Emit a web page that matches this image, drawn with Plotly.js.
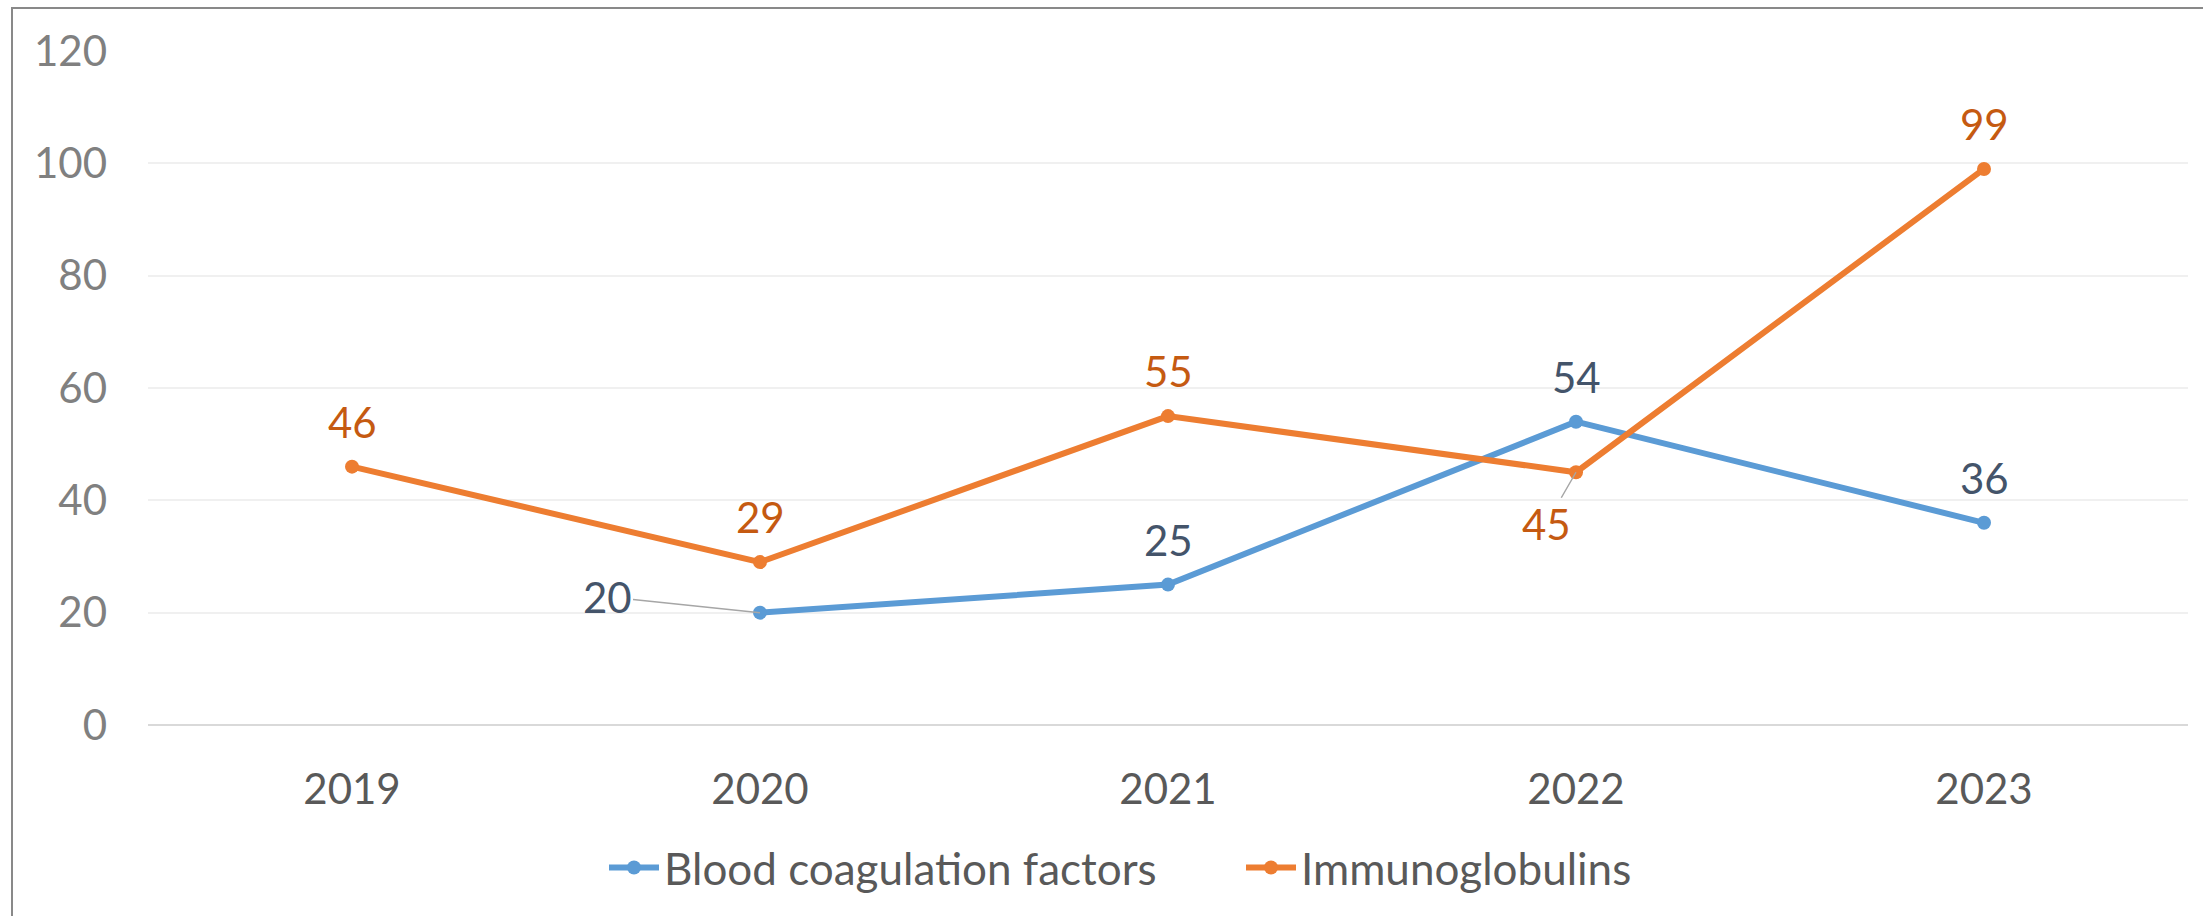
<!DOCTYPE html>
<html>
<head>
<meta charset="utf-8">
<script src="https://cdn.plot.ly/plotly-3.0.1.min.js"></script>
<style>html,body{margin:0;padding:0;background:#fff;}#chart{width:2203px;height:916px;}</style>
</head>
<body>
<div id="chart"></div>
<script>
const years = ['2019', '2020', '2021', '2022', '2023'];
const bloodCoagulation = [null, 20, 25, 54, 36];
const immunoglobulins = [46, 29, 55, 45, 99];
const yTicks = [0, 20, 40, 60, 80, 100, 120];

const FONT = 'Lato, "Liberation Sans", sans-serif';
const BLUE = '#5B9BD5', ORANGE = '#ED7D31';
const BLUE_LBL = '#44546A', ORANGE_LBL = '#C55A11';

const traces = [
  {x: years, y: bloodCoagulation, name: 'Blood coagulation factors', type: 'scatter', mode: 'lines+markers',
   line: {color: BLUE, width: 6}, marker: {color: BLUE, size: 14}},
  {x: years, y: immunoglobulins, name: 'Immunoglobulins', type: 'scatter', mode: 'lines+markers',
   line: {color: ORANGE, width: 6}, marker: {color: ORANGE, size: 14}}
];

// label offsets (style only)
const blueOff = {'2020': {ax: -153, ay: -16}};
const orangeOff = {'2022': {ax: -30, ay: 52}};
const annotations = [];
function addLabels(vals, color, offs) {
  years.forEach((yr, i) => {
    const v = vals[i];
    if (v === null) return;
    const o = offs[yr];
    const base = {x: i, y: v, xref: 'x', yref: 'y', text: String(v),
      font: {family: FONT, size: 42, color: color}};
    if (o) {
      annotations.push(Object.assign(base, {showarrow: true, ax: o.ax, ay: o.ay, arrowhead: 0,
        arrowwidth: 1.5, arrowcolor: '#A6A6A6', standoff: 0}));
    } else {
      annotations.push(Object.assign(base, {showarrow: false, yshift: 45}));
    }
  });
}
addLabels(bloodCoagulation, BLUE_LBL, blueOff);
addLabels(immunoglobulins, ORANGE_LBL, orangeOff);

const layout = {
  width: 2203, height: 916,
  margin: {l: 148, r: 15, t: 51, b: 191},
  paper_bgcolor: '#fff', plot_bgcolor: '#fff',
  font: {family: FONT, color: '#595959'},
  showlegend: true,
  legend: {orientation: 'h', x: (604 - 148) / 2040, xanchor: 'left', y: -0.212, yanchor: 'middle',
    font: {family: FONT, size: 44, color: '#595959'}, itemwidth: 50, entrywidth: 572, entrywidthmode: 'pixels'},
  xaxis: {type: 'category', range: [-0.5, 4.5], autorange: false, showgrid: false, zeroline: false,
    showline: false, ticks: '',
    tickfont: {family: FONT, size: 42, color: '#595959'}, ticklabelstandoff: 36, fixedrange: true},
  yaxis: {range: [0, 120], autorange: false, tickvals: yTicks, showgrid: true, gridcolor: '#F0F0F0', gridwidth: 2,
    zeroline: true, zerolinecolor: '#D9D9D9', zerolinewidth: 2, showline: false, ticks: '',
    tickfont: {family: FONT, size: 42, color: '#808080'}, ticklabelstandoff: 40, fixedrange: true},
  annotations: annotations,
  shapes: [{type: 'rect', xref: 'paper', yref: 'paper', x0: (12 - 148) / 2040, x1: 1.2,
    y0: -0.5, y1: (725 - 8) / 674, line: {color: '#898989', width: 2}, layer: 'below'}]
};

Plotly.newPlot('chart', traces, layout, {displayModeBar: false, staticPlot: true});
</script>
</body>
</html>
